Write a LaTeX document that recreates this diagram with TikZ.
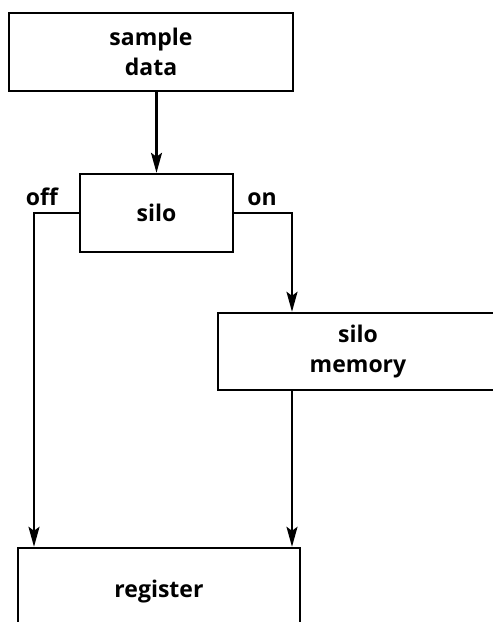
\documentclass[tikz,border=0pt]{standalone}
\usepackage{fontspec}
\setmainfont{Open Sans}
\usetikzlibrary{arrows.meta}
\begin{document}
\begin{tikzpicture}[x=1pt,y=-1pt,
  box/.style={draw=black,line width=2.4pt,rectangle,inner sep=0pt,align=center,
    font=\fontsize{23}{30}\selectfont\bfseries},
  lbl/.style={inner sep=0pt,anchor=base,font=\fontsize{23}{30}\selectfont\bfseries},
  conn/.style={line width=2.1pt},
  arr/.style={conn,-{Stealth[length=20pt,width=11pt,inset=4pt]}}]
\useasboundingbox (0,0) rectangle (493,622);
\clip (0,0) rectangle (493,622);
\node[box,minimum width=284pt,minimum height=78pt] (sd) at (151,52) {sample\\data};
\node[box,minimum width=153pt,minimum height=78pt] (silo) at (156.5,213) {silo};
\node[box,minimum width=280pt,minimum height=77pt] (mem) at (358,351.5) {silo\\memory};
\node[box,minimum width=282pt,minimum height=88pt] (reg) at (159,592) {register};
\coordinate (offx) at (34,0);
\coordinate (onx) at (292,0);
\node[lbl] (off) at (42,205) {off};
\node[lbl] (on) at (262,205) {on};
\draw[arr] (sd.south -| silo.north) -- (silo.north);
\draw[arr] (silo.west) -- (silo.west -| offx) -- (reg.north -| offx);
\draw[arr] (silo.east) -- (silo.east -| onx) -- (mem.north -| onx);
\draw[arr] (mem.south -| onx) -- (reg.north -| onx);
\end{tikzpicture}
\end{document}
